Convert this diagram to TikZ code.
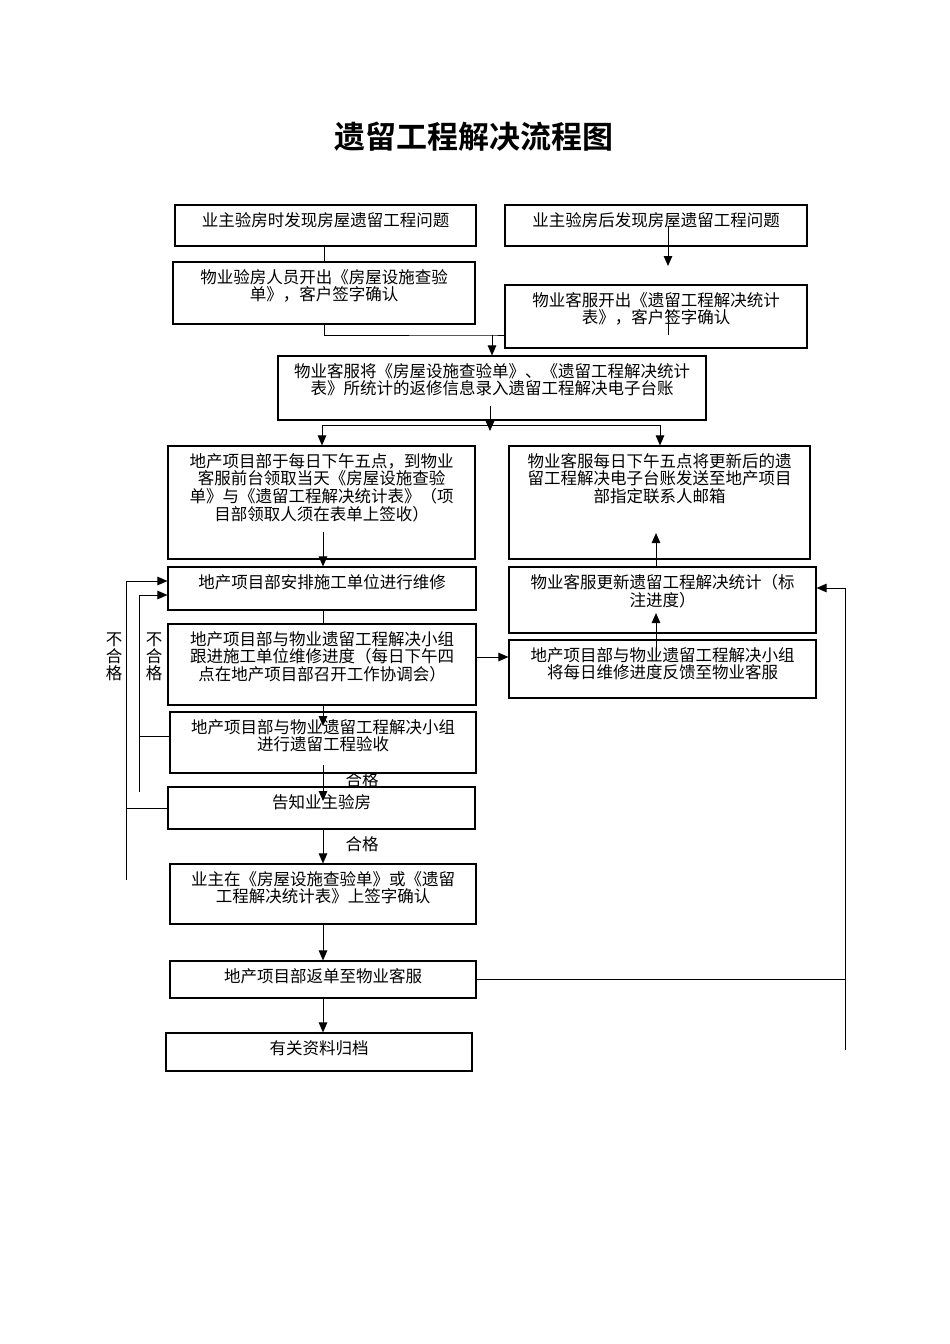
\documentclass[tikz,border=0pt]{standalone}
\usepackage{fontspec}
\setmainfont{Noto Sans CJK SC}[BoldFont={Noto Sans CJK SC Bold}]
\usetikzlibrary{arrows.meta,fit,calc}
\newcommand\flbox[6]{%
  \coordinate (#1-a) at (#2,#3);
  \coordinate (#1-b) at (#4,#5);
  \node[box, fit=(#1-a)(#1-b)] (#1) {};
  \node[txt] (#1-t) at ($(#1.north)+(0,7.5)$) {#6};
}
\begin{document}
\begin{tikzpicture}[x=1pt,y=-1pt,
  box/.style={draw=black, line width=1.1pt, inner sep=0pt},
  txt/.style={anchor=north, inner sep=0pt, align=center, font=\fontsize{16.5}{17.8}\selectfont},
  lbl/.style={inner sep=0pt, align=center, font=\fontsize{16.5}{17}\selectfont},
  ln/.style={line width=1pt},
  arr/.style={line width=1pt, -{Triangle[length=10pt,width=8.5pt]}}]
\useasboundingbox (0,0) rectangle (950,1344);
\node[font=\fontsize{31}{31}\selectfont\bfseries] (title) at (474,137) {遗留工程解决流程图};

\flbox{b1}{175}{205}{476}{246}{业主验房时发现房屋遗留工程问题}
\flbox{b2}{505}{205}{807}{246}{业主验房后发现房屋遗留工程问题}
\flbox{b3}{173}{262}{475}{324}{物业验房人员开出《房屋设施查验\\单》，客户签字确认}
\flbox{b4}{505}{285}{807}{348}{物业客服开出《遗留工程解决统计\\表》，客户签字确认}
\flbox{b5}{278}{356}{706}{420}{物业客服将《房屋设施查验单》、《遗留工程解决统计\\表》所统计的返修信息录入遗留工程解决电子台账}
\flbox{b6}{168}{446}{475}{559}{地产项目部于每日下午五点，到物业\\客服前台领取当天《房屋设施查验\\单》与《遗留工程解决统计表》（项\\目部领取人须在表单上签收）}
\flbox{b7}{509}{446}{810}{559}{物业客服每日下午五点将更新后的遗\\留工程解决电子台账发送至地产项目\\部指定联系人邮箱}
\flbox{b8}{168}{567}{476}{610}{地产项目部安排施工单位进行维修}
\flbox{b9}{509}{567}{816}{633}{物业客服更新遗留工程解决统计（标\\注进度）}
\flbox{b10}{168}{624}{476}{705}{地产项目部与物业遗留工程解决小组\\跟进施工单位维修进度（每日下午四\\点在地产项目部召开工作协调会）}
\flbox{b11}{509}{640}{816}{698}{地产项目部与物业遗留工程解决小组\\将每日维修进度反馈至物业客服}
\flbox{b12}{170}{712}{476}{773}{地产项目部与物业遗留工程解决小组\\进行遗留工程验收}
\flbox{b13}{168}{787}{475}{829}{告知业主验房}
\flbox{b14}{170}{864}{476}{924}{业主在《房屋设施查验单》或《遗留\\工程解决统计表》上签字确认}
\flbox{b15}{170}{961}{476}{998}{地产项目部返单至物业客服}
\flbox{b16}{166}{1033}{472}{1071}{有关资料归档}

% top connectors
\draw[ln] (b3.north |- b1.south) -- (b3.north);
\coordinate (c1) at (668,226);
\coordinate (c2) at (668,266);
\draw[arr] (c1) -- (c2);
\coordinate (c3) at (668,310);
\coordinate (c4) at (668,335);
\draw[ln] (c3) -- (c4);
\coordinate (m1) at (492,335);
\draw[ln] (b3.south) |- (m1) -- (m1 -| b4.west);
\draw[arr] (m1) -- (m1 |- b5.north);
\coordinate (c5) at (490,406);
\coordinate (c6) at (490,431);
\draw[arr] (c5) -- (c6);
\coordinate (m2) at (322,425);
\coordinate (m3) at (660,425);
\draw[ln] (m2) -- (m3);
\draw[arr] (m2) -- (m2 |- b6.north);
\draw[arr] (m3) -- (m3 |- b7.north);

% left column
\coordinate (c7) at (323,532);
\draw[arr] (c7) -- (c7 |- b8.north);
\draw[ln] (c7 |- b8.south) -- (c7 |- b10.north);
\coordinate (c8) at (323,726);
\draw[arr] (c7 |- b10.south) -- (c8);
\coordinate (c9) at (323,765);
\coordinate (c10) at (323,801);
\draw[arr] (c9) -- (c10);
\draw[arr] (c7 |- b13.south) -- (c7 |- b14.north);
\draw[arr] (c7 |- b14.south) -- (c7 |- b15.north);
\draw[arr] (c7 |- b15.south) -- (c7 |- b16.north);
\node[lbl] (hg1) at (362,780) {合格};
\node[lbl] (hg2) at (362,844) {合格};

% right column
\coordinate (c11) at (476,657);
\draw[arr] (c11) -- (c11 -| b11.west);
\coordinate (c12) at (656,656);
\coordinate (c13) at (656,613);
\draw[arr] (c12) -- (c13);
\coordinate (c14) at (656,533);
\draw[arr] (c14 |- b9.north) -- (c14);

% right loop
\coordinate (r1) at (845,1050);
\coordinate (r2) at (845,588);
\draw[ln] (b15.east) -- (b15.east -| r1);
\draw[arr] (r1) -- (r2) -- (r2 -| b9.east);

% left loops
\coordinate (l1) at (126,880);
\coordinate (l2) at (126,581);
\draw[arr] (l1) -- (l2) -- (l2 -| b8.west);
\draw[ln] (b13.west) -- (b13.west -| l1);
\coordinate (l3) at (139,792);
\coordinate (l4) at (139,595);
\draw[arr] (l3) -- (l4) -- (l4 -| b8.west);
\coordinate (l5) at (139,736);
\draw[ln] (l5) -- (l5 -| b12.west);
\node[lbl] (nh1) at (114,657) {不\\合\\格};
\node[lbl] (nh2) at (154,657) {不\\合\\格};
\end{tikzpicture}
\end{document}
